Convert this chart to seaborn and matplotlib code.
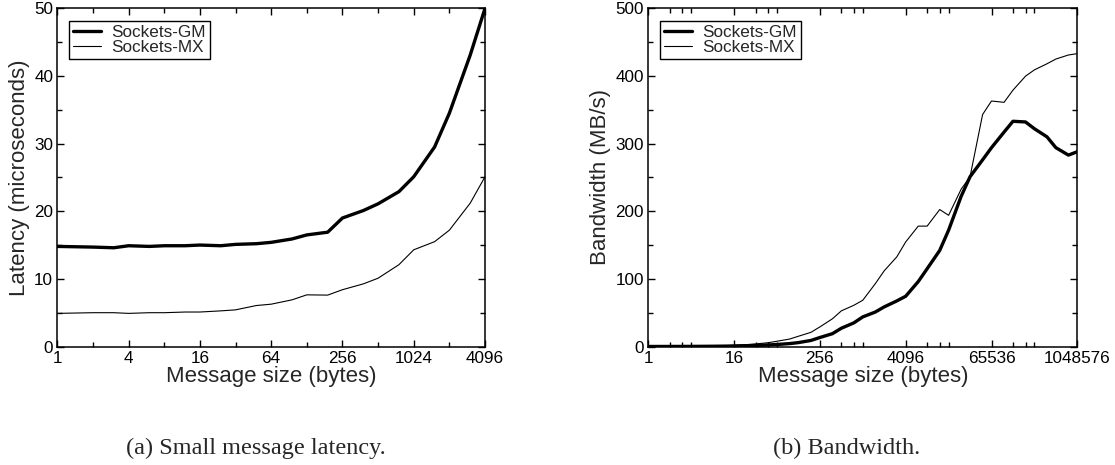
import matplotlib
matplotlib.use('Agg')
import matplotlib.pyplot as plt
import seaborn as sns
import pandas as pd
from matplotlib.ticker import FixedLocator, FixedFormatter, MultipleLocator, NullFormatter

# message sizes (bytes) and latencies (us) for the small message test
lat_sizes = [1, 2, 3, 4, 6, 8, 12, 16, 24, 32, 48, 64, 96, 128, 192, 256,
             384, 512, 768, 1024, 1536, 2048, 3072, 4096]
gm_latency = [14.8, 14.7, 14.6, 14.9, 14.8, 14.9, 14.9, 15.0, 14.9, 15.1, 15.2, 15.4,
              15.9, 16.5, 16.9, 19.0, 20.1, 21.1, 22.9, 25.1, 29.5, 34.5, 43.1, 50.0]
mx_latency = [4.9, 5.0, 5.0, 4.9, 5.0, 5.0, 5.1, 5.1, 5.27, 5.42, 6.06, 6.26,
              6.9, 7.64, 7.6, 8.4, 9.26, 10.1, 12.1, 14.3, 15.5, 17.2, 21.2, 25.1]

# message sizes (bytes) and bandwidth (MB/s)
bw_sizes = [1, 2, 3, 4, 6, 8, 12, 16, 24, 32, 48, 64, 96, 128, 192, 256, 384, 512,
            768, 1024, 1536, 2048, 3072, 4096, 6144, 8192, 12288, 16384, 24576, 32768,
            49152, 65536, 98304, 131072, 196608, 262144, 393216, 524288, 786432, 1048576]
gm_bandwidth = [0.05, 0.1, 0.15, 0.2, 0.3, 0.4, 0.6, 0.8, 1.2, 1.5, 2.3, 3.0, 4.3, 5.8,
                9.0, 13.3, 19, 27, 35, 43.8, 51, 58.6, 67.4, 74.3, 96, 115, 142, 172,
                222, 251, 276, 294, 317, 333, 332, 322, 310, 294, 283, 288]
mx_bandwidth = [0.1, 0.2, 0.3, 0.4, 0.6, 0.8, 1.3, 1.8, 2.8, 3.8, 5.6, 7.8, 11, 15.2,
                21, 29, 41, 52.7, 61, 68.4, 93, 112, 132.5, 154.6, 178, 178, 202.5, 194,
                232.6, 251, 343, 363, 361, 379, 399.7, 409, 418, 425, 431, 433]

lat_ticks = [1, 4, 16, 64, 256, 1024, 4096]
lat_minor = [2, 8, 32, 128, 512, 2048]
bw_ticks = [1, 16, 256, 4096, 65536, 1048576]
bw_minor = [2, 3, 4, 32, 48, 64, 512, 768, 1024, 8192, 12288, 16384,
            131072, 196608, 262144]

SERIES = ["Sockets-GM", "Sockets-MX"]
WIDTHS = {"Sockets-GM": 2.4, "Sockets-MX": 0.8}

sns.set_style("ticks")
plt.rcParams['font.family'] = ['Liberation Sans', 'DejaVu Sans']

df_lat = pd.concat([
    pd.DataFrame({"size": lat_sizes, "value": gm_latency, "series": "Sockets-GM"}),
    pd.DataFrame({"size": lat_sizes, "value": mx_latency, "series": "Sockets-MX"}),
], ignore_index=True)
df_bw = pd.concat([
    pd.DataFrame({"size": bw_sizes, "value": gm_bandwidth, "series": "Sockets-GM"}),
    pd.DataFrame({"size": bw_sizes, "value": mx_bandwidth, "series": "Sockets-MX"}),
], ignore_index=True)

fig = plt.figure(figsize=(11.15, 4.65), dpi=100)
ax1 = fig.add_axes([0.0514, 0.2548, 0.3836, 0.7273])
ax2 = fig.add_axes([0.5814, 0.2548, 0.3848, 0.7273])


def draw(ax, df, ticks, minor, xlim, ylim, ystep, yminor, ylabel):
    for name in SERIES:
        sub = df[df["series"] == name]
        sns.lineplot(x="size", y="value", data=sub, ax=ax, color="black",
                     linewidth=WIDTHS[name], label=name, estimator=None)
    ax.set_xscale("log", base=2)
    ax.set_xlim(*xlim)
    ax.set_ylim(*ylim)
    ax.xaxis.set_major_locator(FixedLocator(ticks))
    ax.xaxis.set_major_formatter(FixedFormatter([str(t) for t in ticks]))
    ax.xaxis.set_minor_locator(FixedLocator(minor))
    ax.xaxis.set_minor_formatter(NullFormatter())
    ax.yaxis.set_major_locator(MultipleLocator(ystep))
    ax.yaxis.set_minor_locator(MultipleLocator(yminor))
    ax.tick_params(which="both", direction="in", top=True, right=True,
                   width=1.0, labelsize=12.3, pad=3, colors="black")
    ax.tick_params(which="major", length=5)
    ax.tick_params(which="minor", length=3.5)
    for sp in ax.spines.values():
        sp.set_linewidth(1.1)
        sp.set_color("black")
    ax.set_xlabel("Message size (bytes)", fontsize=16, labelpad=0)
    ax.set_ylabel(ylabel, fontsize=16, labelpad=3)
    leg = ax.legend(loc="upper left", bbox_to_anchor=(0.028, 0.963), borderaxespad=0,
                    fontsize=12.3, frameon=True, fancybox=False, framealpha=1,
                    edgecolor="black", handlelength=1.65, handletextpad=0.6,
                    labelspacing=0.05, borderpad=0.22)
    leg.get_frame().set_linewidth(1.0)


draw(ax1, df_lat, lat_ticks, lat_minor, (1, 4096), (0, 50), 10, 5,
     "Latency (microseconds)")
draw(ax2, df_bw, bw_ticks, bw_minor, (1, 1048576), (0, 500), 100, 50,
     "Bandwidth (MB/s)")

fig.text(255.8 / 1115, 1 - 448 / 465, "(a) Small message latency.", ha="center",
         va="center", fontsize=17.5, family=["Liberation Serif", "DejaVu Serif"])
fig.text(847 / 1115, 1 - 448 / 465, "(b) Bandwidth.", ha="center",
         va="center", fontsize=17.5, family=["Liberation Serif", "DejaVu Serif"])

fig.savefig("out.png", dpi=100)
plt.close()
